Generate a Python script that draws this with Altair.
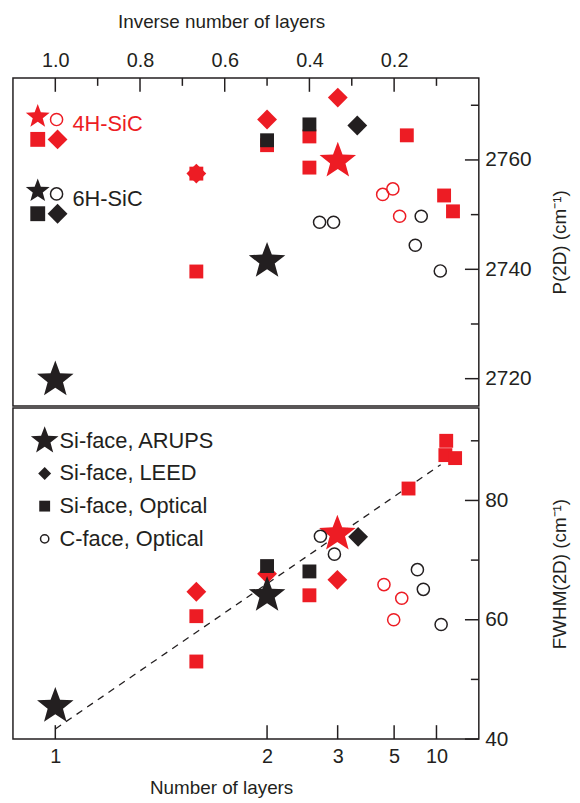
import altair as alt
import pandas as pd

RED = "#ED1C24"
BLACK = "#231F20"
FONT = "Liberation Sans"
STAR = ("M0,-1L0.247,-0.34L0.951,-0.309L0.399,0.13L0.588,0.809L0,0.42"
        "L-0.588,0.809L-0.399,0.13L-0.951,-0.309L-0.247,-0.34Z")

# ---------------- data: P(2D) panel (x = inverse number of layers) ----------------
p_4h_opt_inv = [0.667, 0.667, 0.5, 0.4, 0.4, 0.17, 0.082, 0.061]
p_4h_opt_val = [2757.5, 2739.6, 2762.7, 2764.3, 2758.6, 2764.5, 2753.5, 2750.6]
p_4h_leed_inv = [0.667, 0.5, 0.333]
p_4h_leed_val = [2757.5, 2767.4, 2771.4]
p_4h_arups_inv = [0.333]
p_4h_arups_val = [2759.8]
p_4h_cface_inv = [0.227, 0.203, 0.187]
p_4h_cface_val = [2753.7, 2754.7, 2749.7]
p_6h_opt_inv = [0.5, 0.4]
p_6h_opt_val = [2763.6, 2766.5]
p_6h_leed_inv = [0.287]
p_6h_leed_val = [2766.3]
p_6h_arups_inv = [1.0, 0.5]
p_6h_arups_val = [2719.8, 2741.5]
p_6h_cface_inv = [0.376, 0.343, 0.136, 0.150, 0.091]
p_6h_cface_val = [2748.6, 2748.6, 2749.7, 2744.4, 2739.7]

# ---------------- data: FWHM(2D) panel ----------------
f_4h_opt_inv = [0.667, 0.667, 0.4, 0.166, 0.079, 0.077, 0.056]
f_4h_opt_val = [60.6, 53.0, 64.1, 82.0, 87.6, 90.0, 87.1]
f_4h_leed_inv = [0.667, 0.5, 0.334]
f_4h_leed_val = [64.7, 67.7, 66.7]
f_4h_arups_inv = [0.334]
f_4h_arups_val = [74.4]
f_4h_cface_inv = [0.224, 0.182, 0.201]
f_4h_cface_val = [65.9, 63.6, 60.0]
f_6h_opt_inv = [0.5, 0.4]
f_6h_opt_val = [69.0, 68.1]
f_6h_leed_inv = [0.285]
f_6h_leed_val = [73.9]
f_6h_arups_inv = [1.0, 0.5]
f_6h_arups_val = [45.5, 64.1]
f_6h_cface_inv = [0.374, 0.341, 0.145, 0.131, 0.089]
f_6h_cface_val = [74.0, 71.0, 68.4, 65.1, 59.2]

fit_inv = [1.0, 0.09]
fit_val = [41.7, 86.0]

# axis ticks / labels
top_major = [1.0, 0.8, 0.6, 0.4, 0.2]
top_minor = [0.9, 0.7, 0.5, 0.3, 0.1]
bottom_layers = [1, 2, 3, 5, 10]
p_major = [2720, 2740, 2760]
p_minor = [2730, 2750, 2770]
f_major = [40, 60, 80]
f_minor = [50, 70, 90]

polytypes = ["4H-SiC", "6H-SiC"]
legend_methods = ["Si-face, ARUPS", "Si-face, LEED", "Si-face, Optical", "C-face, Optical"]

W = 470
H_TOP = 331
H_BOT = 334
MAJ = 14
MIN = 8


def rows(poly, method, invs, vals):
    return [{"poly": poly, "method": method, "inv": i, "val": v} for i, v in zip(invs, vals)]


p_fill = pd.DataFrame(
    rows("4H", "Optical", p_4h_opt_inv, p_4h_opt_val)
    + rows("4H", "LEED", p_4h_leed_inv, p_4h_leed_val)
    + rows("4H", "ARUPS", p_4h_arups_inv, p_4h_arups_val)
    + rows("6H", "Optical", p_6h_opt_inv, p_6h_opt_val)
    + rows("6H", "LEED", p_6h_leed_inv, p_6h_leed_val)
    + rows("6H", "ARUPS", p_6h_arups_inv, p_6h_arups_val))
p_open = pd.DataFrame(rows("4H", "C", p_4h_cface_inv, p_4h_cface_val)
                      + rows("6H", "C", p_6h_cface_inv, p_6h_cface_val))
f_fill = pd.DataFrame(
    rows("4H", "Optical", f_4h_opt_inv, f_4h_opt_val)
    + rows("4H", "LEED", f_4h_leed_inv, f_4h_leed_val)
    + rows("4H", "ARUPS", f_4h_arups_inv, f_4h_arups_val)
    + rows("6H", "Optical", f_6h_opt_inv, f_6h_opt_val)
    + rows("6H", "LEED", f_6h_leed_inv, f_6h_leed_val)
    + rows("6H", "ARUPS", f_6h_arups_inv, f_6h_arups_val))
f_open = pd.DataFrame(rows("4H", "C", f_4h_cface_inv, f_4h_cface_val)
                      + rows("6H", "C", f_6h_cface_inv, f_6h_cface_val))
fit_df = pd.DataFrame({"inv": fit_inv, "val": fit_val})

xs = alt.Scale(domain=[0, 1.1], reverse=True, nice=False, zero=False)
color = alt.Color("poly:N", scale=alt.Scale(domain=["4H", "6H"], range=[RED, BLACK]), legend=None)
shape = alt.Shape("method:N", scale=alt.Scale(domain=["Optical", "LEED", "ARUPS"],
                                              range=["square", "diamond", STAR]), legend=None)
SIZE_EXPR = "datum.method === 'ARUPS' ? 1500 : (datum.method === 'LEED' ? 400 : 196)"

x_top_axis = alt.Axis(orient="top", values=top_major, format=".1f", ticks=False, domain=False,
                      labelPadding=8, labelFontSize=20, labelFlush=False,
                      title="Inverse number of layers", titleFontSize=19, titlePadding=19, titleX=210)
x_bot_axis = alt.Axis(orient="bottom", values=[1 / n for n in bottom_layers],
                      labelExpr="round(1/datum.value)", ticks=False, domain=False,
                      labelPadding=8, labelFontSize=20, labelFlush=False,
                      title="Number of layers", titleFontSize=19, titlePadding=12, titleX=210)
y_top_axis = alt.Axis(orient="right", values=p_major, format="d", ticks=False, domain=False,
                      labelPadding=6, labelFontSize=21, labelFlush=False,
                      title="P(2D) (cm⁻¹)", titleFontSize=19, titleAngle=270,
                      titleBaseline="top", titleX=72)
y_bot_axis = alt.Axis(orient="right", values=f_major, format="d", ticks=False, domain=False,
                      labelPadding=6, labelFontSize=21, labelFlush=False,
                      title="FWHM(2D) (cm⁻¹)", titleFontSize=19, titleAngle=270,
                      titleBaseline="top", titleX=72)

one = pd.DataFrame({"k": [0]})


def sym(x, y, shp, sz, c, filled=True):
    return alt.Chart(one).mark_point(shape=shp, size=sz, filled=filled, color=c, opacity=1,
                                     strokeWidth=1.5).encode(x=alt.value(x), y=alt.value(y))


def label(x, y, text, c, fs=22):
    return alt.Chart(one).mark_text(text=text, align="left", baseline="middle", font=FONT,
                                    fontSize=fs, color=c).encode(x=alt.value(x), y=alt.value(y))


def panel(fill_df, open_df, yscale, xaxis, yaxis, H, xmaj, xmin, ymaj, ymin, top_side, extra):
    X = alt.X("inv:Q", scale=xs, axis=xaxis)
    Y = alt.Y("val:Q", scale=yscale, axis=yaxis)
    layers = []
    for vals, L in ((xmaj, MAJ), (xmin, MIN)):
        if not vals:
            continue
        y0, y1 = (0, L) if top_side else (H, H - L)
        layers.append(alt.Chart(pd.DataFrame({"inv": vals})).mark_rule(color=BLACK, strokeWidth=1.5)
                      .encode(x=X, y=alt.value(y0), y2=alt.value(y1)))
    for vals, L in ((ymaj, MAJ), (ymin, MIN)):
        layers.append(alt.Chart(pd.DataFrame({"val": vals})).mark_rule(color=BLACK, strokeWidth=1.5)
                      .encode(y=Y, x=alt.value(W), x2=alt.value(W - L)))
    layers += extra(X, Y)
    layers.append(alt.Chart(fill_df).transform_calculate(sz=SIZE_EXPR)
                  .mark_point(filled=True, opacity=1, strokeWidth=0)
                  .encode(x=X, y=Y, color=color, shape=shape,
                          size=alt.Size("sz:Q", scale=None, legend=None)))
    layers.append(alt.Chart(open_df).mark_point(shape="circle", filled=False, opacity=1,
                                                size=150, strokeWidth=1.5)
                  .encode(x=X, y=Y, color=color))
    return layers


def top_extra(X, Y):
    out = []
    for i, (name, c) in enumerate(zip(polytypes, [RED, BLACK])):
        dy = 75 * i
        out += [sym(25, 39 + dy, STAR, 640, c), sym(44, 42 + dy, "circle", 150, c, filled=False),
                sym(25, 62 + dy, "square", 225, c), sym(45, 62 + dy, "diamond", 400, c),
                label(60, 47 + dy, name, c, 22)]
    return out


def bot_extra(X, Y):
    out = [alt.Chart(fit_df).mark_line(color=BLACK, strokeDash=[7, 6], strokeWidth=1.3)
           .encode(x=X, y=Y)]
    specs = [(STAR, 860, True), ("diamond", 170, True), ("square", 120, True), ("circle", 70, False)]
    for i, (name, (shp, sz, fl)) in enumerate(zip(legend_methods, specs)):
        y = 33 + 33 * i
        out += [sym(32, y, shp, sz, BLACK, filled=fl), label(47, y, name, BLACK, 22)]
    return out


top = alt.layer(*panel(p_fill, p_open,
                       alt.Scale(domain=[2715, 2775], nice=False, zero=False),
                       x_top_axis, y_top_axis, H_TOP, top_major, top_minor, p_major, p_minor,
                       True, top_extra)).properties(width=W, height=H_TOP)
bot = alt.layer(*panel(f_fill, f_open,
                       alt.Scale(domain=[40, 95.5], nice=False, zero=False),
                       x_bot_axis, y_bot_axis, H_BOT, [1 / n for n in bottom_layers], [],
                       f_major, f_minor, False, bot_extra)).properties(width=W, height=H_BOT)

chart = (alt.vconcat(top, bot, spacing=0)
         .properties(padding={"left": 4, "top": 0, "right": 2, "bottom": 5})
         .configure_view(stroke=BLACK, strokeWidth=1.5)
         .configure_axis(labelFont=FONT, titleFont=FONT, labelColor=BLACK, titleColor=BLACK,
                         titleFontWeight="normal", grid=False))

chart.save("out.html", embed_options={"renderer": "svg", "actions": False})
